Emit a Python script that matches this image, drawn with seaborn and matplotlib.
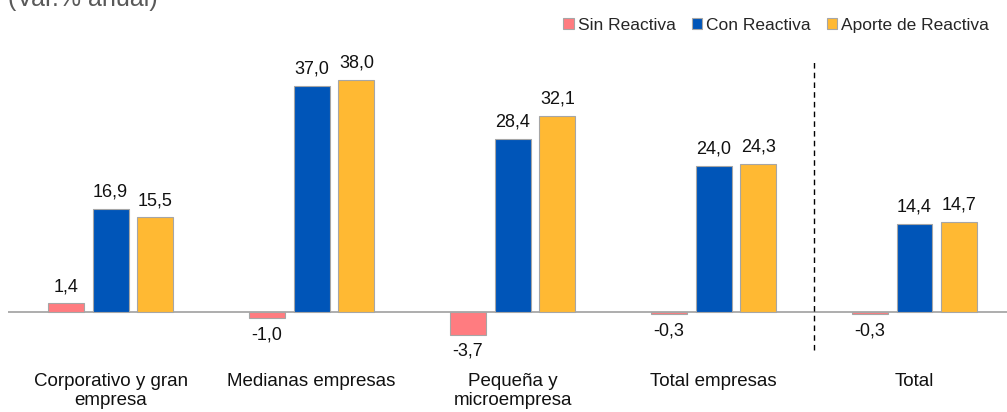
import numpy as np
import pandas as pd
import matplotlib
matplotlib.use("Agg")
import matplotlib.pyplot as plt
from matplotlib.patches import Patch
import seaborn as sns

# data
categorias = ["Corporativo y gran\nempresa", "Medianas empresas", "Pequeña y\nmicroempresa",
              "Total empresas", "Total"]
series = ["Sin Reactiva", "Con Reactiva", "Aporte de Reactiva"]
sin_reactiva = [1.4, -1.0, -3.7, -0.3, -0.3]
con_reactiva = [16.9, 37.0, 28.4, 24.0, 14.4]
aporte_reactiva = [15.5, 38.0, 32.1, 24.3, 14.7]

cols = ["#FF7C80", "#0055B8", "#FFB933"]

df = pd.DataFrame({
    "categoria": categorias * 3,
    "serie": [series[0]] * 5 + [series[1]] * 5 + [series[2]] * 5,
    "valor": sin_reactiva + con_reactiva + aporte_reactiva,
})

sns.set_style("white")
plt.rcParams["font.family"] = ["Liberation Sans", "DejaVu Sans"]

fig = plt.figure(figsize=(10.07, 4.12), dpi=100)
ax = fig.add_axes([0.008, 0.1262, 0.992, 0.801])

sns.barplot(data=df, x="categoria", y="valor", hue="serie", order=categorias,
            hue_order=series, palette=cols, saturation=1, width=0.67, gap=0.2,
            edgecolor="#A6A6A6", linewidth=0.8, legend=False, ax=ax)

for cont, vals in zip(ax.containers, [sin_reactiva, con_reactiva, aporte_reactiva]):
    labs = [f"{v:.1f}".replace(".", ",") for v in vals]
    ax.bar_label(cont, labels=labs, padding=6, fontsize=13, color="#111111")

ax.axhline(0, color="#A0A0A0", lw=1.2, zorder=0)
ax.plot([3.5, 3.5], [-6.2, 41.3], color="black", lw=1, ls=(0, (4, 3)))

ax.set_xlim(-0.51, 4.46)
ax.set_ylim(-7.87, 46.23)
ax.set_xlabel("")
ax.set_ylabel("")
ax.set_yticks([])
ax.tick_params(axis="x", length=0, pad=9, labelsize=13.5, labelcolor="#111111")
sns.despine(ax=ax, left=True, bottom=True)

handles = [Patch(facecolor=c, edgecolor="#A6A6A6", lw=0.8) for c in cols]
fig.legend(handles, series, loc="upper right", bbox_to_anchor=(0.998, 0.995), ncol=3,
           frameon=False, fontsize=12.5, handlelength=0.6, handleheight=0.6,
           handletextpad=0.25, columnspacing=0.9)

fig.text(0.008, 1 - 6 / 412, "(Var.% anual)", fontsize=18, color="#595959", va="baseline")

fig.savefig("out.png", dpi=100)
